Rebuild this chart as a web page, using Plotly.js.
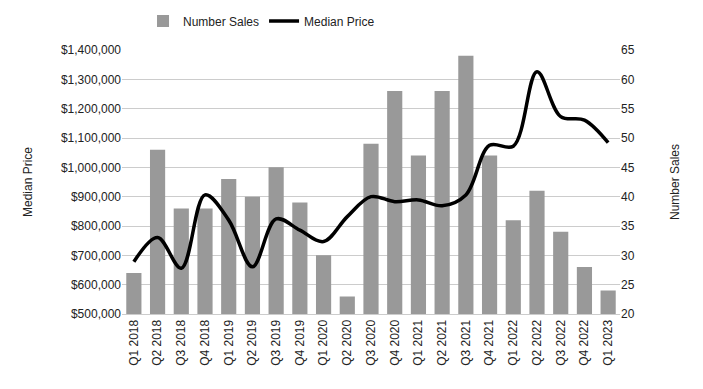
<!DOCTYPE html>
<html>
<head>
<meta charset="utf-8">
<script src="https://cdn.plot.ly/plotly-3.0.1.min.js"></script>
<style>html,body{margin:0;padding:0;background:#fff;}#chart{width:703px;height:389px;}</style>
</head>
<body>
<div id="chart"></div>
<script>
const quarters = ["Q1 2018","Q2 2018","Q3 2018","Q4 2018","Q1 2019","Q2 2019","Q3 2019","Q4 2019","Q1 2020","Q2 2020","Q3 2020","Q4 2020","Q1 2021","Q2 2021","Q3 2021","Q4 2021","Q1 2022","Q2 2022","Q3 2022","Q4 2022","Q1 2023"];
const numberSales = [27,48,38,38,43,40,45,39,30,23,49,58,47,58,64,47,36,41,34,28,24];
const medianPrice = [678000,761000,656000,906000,820000,661000,824000,786000,747000,832000,900000,883000,889000,869000,906000,1075000,1072000,1326000,1173000,1161000,1084000];
const priceTicks = [500000,600000,700000,800000,900000,1000000,1100000,1200000,1300000,1400000];
const priceTickText = priceTicks.map(v => "$" + v.toLocaleString("en-US"));
const salesTicks = [20,25,30,35,40,45,50,55,60,65];

const font = {family: "Liberation Sans, Arial, sans-serif", size: 12, color: "#222"};

const traces = [
  {
    type: "bar", name: "Number Sales", x: quarters, y: numberSales, yaxis: "y",
    marker: {color: "#999999"}
  },
  {
    type: "scatter", mode: "lines", name: "Median Price", x: quarters, y: medianPrice, yaxis: "y2",
    line: {color: "#000000", width: 3.5, shape: "spline", smoothing: 1}
  }
];

const layout = {
  width: 703, height: 389,
  margin: {l: 122, r: 83, t: 50, b: 75},
  paper_bgcolor: "#fff", plot_bgcolor: "#fff",
  font: font,
  bargap: 0.36,
  showlegend: true,
  legend: {orientation: "h", xref: "container", x: 0.372, xanchor: "center", yref: "container", y: 0.946, yanchor: "middle", traceorder: "normal", font: font},
  xaxis: {
    type: "category", tickangle: -90, showgrid: false, ticks: "", tickfont: font,
    showline: true, linecolor: "#cccccc", zeroline: false
  },
  yaxis: {
    side: "right", range: [20, 65], tickvals: salesTicks,
    gridcolor: "#cccccc", zeroline: false, tickfont: font,
    title: {text: "Number Sales", font: font, standoff: 36}
  },
  yaxis2: {
    overlaying: "y", side: "left", range: [500000, 1400000], tickvals: priceTicks, ticktext: priceTickText,
    showgrid: false, zeroline: false, tickfont: font,
    title: {text: "Median Price", font: font, standoff: 25}
  }
};

Plotly.newPlot("chart", traces, layout, {displayModeBar: false, staticPlot: true});
</script>
</body>
</html>
